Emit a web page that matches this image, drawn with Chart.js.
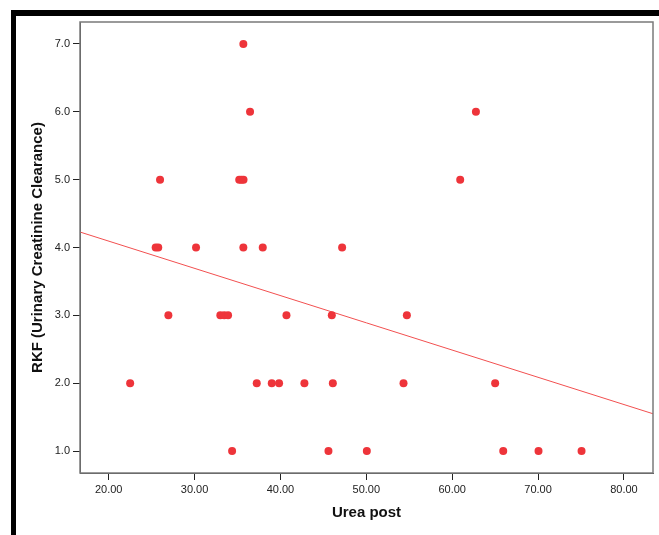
<!DOCTYPE html>
<html>
<head>
<meta charset="utf-8">
<script src="https://cdn.jsdelivr.net/npm/chart.js@4/dist/chart.umd.min.js"></script>
<style>
  html, body { margin: 0; padding: 0; background: #fff; }
  canvas { display: block; }
</style>
</head>
<body>
<canvas id="scatterChart" width="659" height="535"></canvas>
<script>
// Values
const ureaPost = [
  35.68,
  36.46, 62.76,
  25.98, 35.20, 35.45, 35.70, 60.93,
  25.47, 25.77, 30.17, 35.68, 37.94, 47.18,
  26.95, 33.00, 33.45, 33.90, 40.70, 45.98, 54.72,
  22.50, 37.24, 38.99, 39.84, 42.79, 46.10, 54.33, 65.00,
  34.37, 45.59, 50.06, 65.94, 70.05, 75.06
];
const rkf = [
  7,
  6, 6,
  5, 5, 5, 5, 5,
  4, 4, 4, 4, 4, 4,
  3, 3, 3, 3, 3, 3, 3,
  2, 2, 2, 2, 2, 2, 2, 2,
  1, 1, 1, 1, 1, 1
];

const xTicks = [20, 30, 40, 50, 60, 70, 80];
const yTicks = [1, 2, 3, 4, 5, 6, 7];
const xRange = [16.66, 83.38];
const yRange = [0.676, 7.324];

// fit line
const fitIntercept = 4.897;
const fitSlope = -0.04015;

const points = ureaPost.map((x, i) => ({ x: x, y: rkf[i] }));
const fitLine = xRange.map(x => ({ x: x, y: fitIntercept + fitSlope * x }));

// black frame round the picture and grey box round the plot
const framePlugin = {
  id: 'frame',
  beforeDraw(chart) {
    const ctx = chart.ctx;
    ctx.save();
    ctx.fillStyle = '#fff';
    ctx.fillRect(0, 0, chart.width, chart.height);
    ctx.fillStyle = '#000';
    ctx.fillRect(11, 10, chart.width - 11, 6);
    ctx.fillRect(11, 10, 5, chart.height - 10);
    ctx.restore();
  },
  afterDraw(chart) {
    const a = chart.chartArea;
    const ctx = chart.ctx;
    ctx.save();
    ctx.strokeStyle = '#7a7a7a';
    ctx.lineWidth = 1.5;
    ctx.strokeRect(a.left, a.top, a.right - a.left, a.bottom - a.top);
    ctx.restore();
  }
};

const ctx = document.getElementById('scatterChart').getContext('2d');
new Chart(ctx, {
  type: 'scatter',
  data: {
    datasets: [
      {
        label: 'RKF',
        data: points,
        backgroundColor: 'rgb(238, 52, 58)',
        borderWidth: 0,
        pointRadius: 4,
        pointHoverRadius: 4
      },
      {
        type: 'line',
        label: 'Fit',
        data: fitLine,
        borderColor: 'rgb(242, 80, 80)',
        borderWidth: 1,
        pointRadius: 0,
        fill: false
      }
    ]
  },
  options: {
    responsive: false,
    animation: false,
    devicePixelRatio: 1,
    layout: { padding: { left: 16, top: 22, right: 6, bottom: 0 } },
    plugins: {
      legend: { display: false },
      tooltip: { enabled: false }
    },
    scales: {
      x: {
        type: 'linear',
        min: xRange[0],
        max: xRange[1],
        afterBuildTicks: scale => { scale.ticks = xTicks.map(v => ({ value: v })); },
        afterFit: scale => { scale.height = 62; },
        grid: { drawOnChartArea: false, drawTicks: true, tickLength: 7, color: '#222' },
        border: { color: '#444', width: 1 },
        ticks: {
          color: '#222',
          padding: 3,
          maxRotation: 0,
          font: { family: 'Liberation Sans, Arial, sans-serif', size: 11 },
          callback: v => Number(v).toFixed(2)
        },
        title: {
          display: true,
          text: 'Urea post',
          color: '#111',
          padding: { top: 0, bottom: 13 },
          font: { family: 'Liberation Sans, Arial, sans-serif', size: 15, weight: 'bold' }
        }
      },
      y: {
        type: 'linear',
        min: yRange[0],
        max: yRange[1],
        afterBuildTicks: scale => { scale.ticks = yTicks.map(v => ({ value: v })); },
        afterFit: scale => { scale.width = 64; },
        grid: { drawOnChartArea: false, drawTicks: true, tickLength: 7, color: '#222' },
        border: { color: '#444', width: 1 },
        ticks: {
          color: '#222',
          padding: 3,
          font: { family: 'Liberation Sans, Arial, sans-serif', size: 11 },
          callback: v => Number(v).toFixed(1)
        },
        title: {
          display: true,
          text: 'RKF (Urinary Creatinine Clearance)',
          color: '#111',
          padding: { top: 13, bottom: 0 },
          font: { family: 'Liberation Sans, Arial, sans-serif', size: 15, weight: 'bold' }
        }
      }
    }
  },
  plugins: [framePlugin]
});
</script>
</body>
</html>
